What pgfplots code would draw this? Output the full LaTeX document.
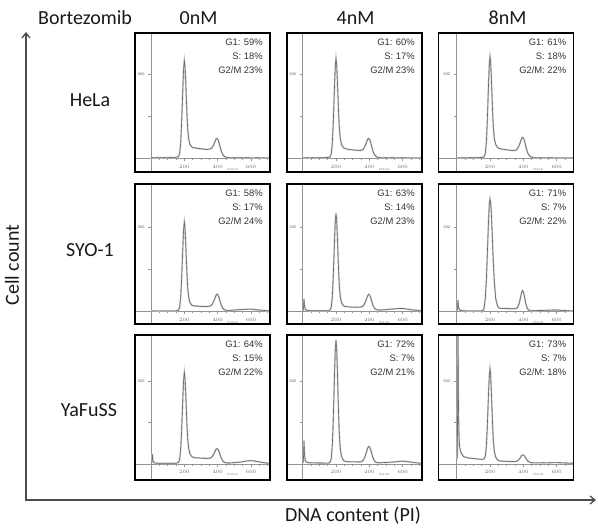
\documentclass[border=0pt]{standalone}
\usepackage{pgfplots}
\usepackage{pgfplotstable}
\pgfplotsset{compat=1.18}
\usetikzlibrary{arrows.meta}
\usepackage{fontspec}
\setmainfont{Carlito}
\newfontfamily\arialf{Liberation Sans}

% HeLa 0nM
\pgfplotstableread{
x y
0 4
10 4
25 3
40 5
60 4
80 5
100 4
120 6
140 6
155 8
165 13
172 34
178 110
183 234
188 396
192 534
196 646
200 697
204 657
208 554
212 428
216 308
220 214
226 138
234 99
245 81
255 74
265 76
275 70
285 72
295 66
305 69
315 64
325 66
335 62
345 65
355 66
365 73
375 94
383 117
390 137
396 142
402 134
408 112
415 80
422 50
430 28
440 13
452 6
465 4
480 3
500 5
520 3
540 4
560 3
580 4
600 3
620 3
640 4
660 2
680 3
700 2
710 3
}\dA
% HeLa 4nM
\pgfplotstableread{
x y
0 3
10 3
25 4
40 3
60 4
80 3
100 4
120 4
140 5
155 6
165 12
172 34
178 111
183 236
188 406
192 547
196 662
200 714
204 672
208 565
212 435
216 312
220 215
226 136
234 96
245 75
255 69
265 66
275 64
285 61
295 62
305 58
315 59
325 56
335 57
345 55
355 59
365 67
375 89
383 114
390 136
396 142
402 135
408 113
415 81
422 50
430 28
440 13
452 6
465 4
480 3
500 4
520 3
540 4
560 3
580 3
600 4
620 3
640 3
660 2
680 3
700 2
710 2
}\dB
% HeLa 8nM
\pgfplotstableread{
x y
0 3
10 3
25 3
40 4
60 3
80 4
100 4
120 4
140 5
155 6
165 12
172 34
178 113
183 240
188 413
192 556
196 673
200 726
204 684
208 576
212 444
216 319
220 220
226 140
234 99
245 78
255 70
265 68
275 65
285 63
295 61
305 60
315 57
325 58
335 55
345 56
355 58
365 68
375 92
383 118
390 142
396 149
402 142
408 119
415 85
422 53
430 29
440 13
452 6
465 4
480 3
500 4
520 3
540 3
560 4
580 3
600 3
620 3
640 2
660 3
680 2
700 2
710 2
}\dC
% SYO-1 0nM
\pgfplotstableread{
x y
0 3
10 3
25 3
40 4
60 3
80 3
100 4
120 4
140 4
155 5
165 10
172 30
178 99
183 210
188 361
192 487
196 589
200 635
204 595
208 495
212 375
216 262
220 172
226 100
234 63
245 44
255 40
265 38
275 39
285 36
295 37
305 35
315 36
325 34
335 35
345 36
355 38
365 46
375 68
383 92
390 114
396 122
402 116
408 98
415 70
422 42
430 24
440 12
452 8
465 7
480 8
500 10
520 12
540 13
560 15
580 16
600 16
620 14
640 11
660 9
680 7
700 5
710 5
}\dD
% SYO-1 4nM
\pgfplotstableread{
x y
4 6
8 89
11 40
16 14
25 8
40 6
60 5
80 5
100 5
120 5
140 5
155 6
165 12
172 33
178 108
183 229
188 396
192 534
196 645
200 696
204 650
208 539
212 406
216 280
220 180
226 100
234 60
245 40
255 35
265 34
275 32
285 33
295 30
305 31
315 29
325 31
335 30
345 31
355 33
365 42
375 64
383 89
390 112
396 121
402 116
408 98
415 69
422 42
430 25
440 14
452 11
465 10
480 11
500 13
520 15
540 17
560 19
580 21
600 21
620 18
640 14
660 11
680 9
700 6
710 6
}\dE
% SYO-1 8nM
\pgfplotstableread{
x y
4 6
8 81
11 35
16 12
25 7
40 5
60 4
80 4
100 4
120 4
140 4
155 4
160 10
165 27
172 97
178 221
183 372
188 538
192 666
196 763
200 798
204 772
208 699
212 590
216 466
220 349
226 209
234 93
245 38
255 24
265 22
275 21
285 22
295 20
305 21
315 19
325 20
335 19
345 20
355 21
365 28
375 56
383 99
390 137
396 148
402 133
408 98
415 54
422 27
430 11
440 6
452 5
465 5
480 6
500 7
520 7
540 8
560 9
580 10
600 10
620 8
640 7
660 6
680 4
700 3
710 3
}\dF
% YaFuSS 0nM
\pgfplotstableread{
x y
4 6
8 73
11 30
16 12
25 7
40 5
60 5
80 5
100 5
120 5
140 5
155 6
165 12
172 32
178 105
183 220
188 378
192 509
196 617
200 665
204 624
208 521
212 397
216 279
220 186
226 111
234 73
245 53
255 48
265 46
275 44
285 45
295 42
305 43
315 41
325 42
335 40
345 41
355 42
365 50
375 68
383 89
390 106
396 112
402 107
408 90
415 64
422 42
430 23
440 12
452 8
465 7
480 8
500 10
520 12
540 14
560 19
580 23
600 24
620 22
640 17
660 13
680 9
700 6
710 6
}\dG
% YaFuSS 4nM
\pgfplotstableread{
x y
4 10
8 170
11 70
16 25
25 12
40 9
60 8
80 8
100 7
120 7
140 6
155 6
165 14
172 41
178 140
183 297
188 513
192 692
196 837
200 900
204 839
208 690
212 513
216 344
220 212
226 105
234 52
245 26
255 19
265 17
275 16
285 17
295 15
305 16
315 15
325 16
335 14
345 15
355 18
365 29
375 56
383 86
390 115
396 127
402 124
408 104
415 73
422 46
430 23
440 12
452 9
465 9
480 10
500 11
520 12
540 14
560 16
580 19
600 20
620 19
640 15
660 12
680 9
700 6
710 6
}\dH
% YaFuSS 8nM
\pgfplotstableread{
x y
4 40
8 1000
11 400
14 200
18 119
25 85
40 55
60 46
80 42
100 40
120 37
140 35
155 33
165 38
172 57
178 129
183 247
188 406
192 538
196 645
200 691
204 644
208 531
212 397
216 271
220 170
226 90
234 50
245 29
255 23
265 21
275 21
285 19
295 20
305 18
315 19
325 17
335 18
345 17
355 19
365 22
375 34
383 47
390 61
396 66
402 64
408 57
415 43
422 29
430 18
440 12
452 9
465 8
480 8
500 8
520 9
540 8
560 9
580 10
600 10
620 9
640 8
660 7
680 6
700 5
710 5
}\dI

\pgfplotsset{
  hist/.style={
    scale only axis, width=135pt, anchor=south west,
    axis lines=middle,
    axis line style={-, draw=gray!85, line width=0.55pt},
    xtick={0,200,400,600},
    minor xtick={50,100,150,250,300,350,450,500,550,650,700},
    ytick={0,300,600}, yticklabels={0,,600},
    tick style={draw=gray!85, line width=0.4pt},
    major tick length=2.6pt, minor tick length=1.6pt,
    tick align=outside,
    xticklabel style={font=\arialf\fontsize{3.8}{4}\selectfont, text=black!60, yshift=-0.5pt},
    yticklabel style={font=\arialf\fontsize{3.8}{4}\selectfont, text=black!60, xshift=-0.5pt},
    clip mode=individual,
  },
  row1/.style={height=139pt, ymin=-98, ymax=895},
  row2/.style={height=140pt, ymin=-89, ymax=904},
  row3/.style={height=145pt, ymin=-116, ymax=935},
  col1/.style={xmin=-96, xmax=714},
  col2/.style={xmin=-94, xmax=716},
  col3/.style={xmin=-109, xmax=701},
}

\newcommand\panel[9]{%
\begin{axis}[hist,#3,#4,at={(#1pt,#2pt)}]
\addplot[no marks, draw=gray!40, line width=1.7pt] table {#5};
\addplot[no marks, draw=black!60, line width=0.6pt] table {#5};
\draw[black, line width=#9] (rel axis cs:0,0) rectangle (rel axis cs:1,1);
\node[anchor=east, yshift=-9pt, font=\arialf\fontsize{9.4}{10}\selectfont, text=black!80, inner sep=0pt] at (rel axis cs:0.948,1) {#6};
\node[anchor=east, yshift=-23pt, font=\arialf\fontsize{9.4}{10}\selectfont, text=black!80, inner sep=0pt] at (rel axis cs:0.948,1) {#7};
\node[anchor=east, yshift=-37.5pt, font=\arialf\fontsize{9.4}{10}\selectfont, text=black!80, inner sep=0pt] at (rel axis cs:0.948,1) {#8};
\node[font=\arialf\fontsize{3}{3}\selectfont, text=black!55, inner sep=0pt] at (axis cs:490,-78) {FL2-Lin};
\end{axis}}

\begin{document}
\begin{tikzpicture}[x=1pt,y=1pt]
\useasboundingbox (0,0) rectangle (598,532);
\draw[black!70, line width=1.3pt, {Straight Barb[length=5pt,width=8pt]}-{Straight Barb[length=5pt,width=8pt]}] (26,500) -- (26,32) -- (596,32);

\panel{135}{360}{row1}{col1}{\dA}{G1: 59\%}{S: 18\%}{G2/M 23\%}{1.5pt}
\panel{287}{360}{row1}{col2}{\dB}{G1: 60\%}{S: 17\%}{G2/M 23\%}{1.5pt}
\panel{438.5}{360}{row1}{col3}{\dC}{G1: 61\%}{S: 18\%}{G2/M: 22\%}{1.1pt}
\panel{135}{208}{row2}{col1}{\dD}{G1: 58\%}{S: 17\%}{G2/M 24\%}{1.5pt}
\panel{287}{208}{row2}{col2}{\dE}{G1: 63\%}{S: 14\%}{G2/M 23\%}{1.5pt}
\panel{438.5}{208}{row2}{col3}{\dF}{G1: 71\%}{S: 7\%}{G2/M: 22\%}{1.1pt}
\panel{135}{52}{row3}{col1}{\dG}{G1: 64\%}{S: 15\%}{G2/M 22\%}{1.5pt}
\panel{287}{52}{row3}{col2}{\dH}{G1: 72\%}{S: 7\%}{G2/M 21\%}{1.5pt}
\panel{438.5}{52}{row3}{col3}{\dI}{G1: 73\%}{S: 7\%}{G2/M: 18\%}{1.1pt}

\begin{scope}[every node/.style={font=\fontsize{20}{24}\selectfont, text=black!90, inner sep=0pt}]
\node[anchor=base] at (85,507) {Bortezomib};
\node[anchor=base] at (198.5,507) {0nM};
\node[anchor=base] at (355.5,507) {4nM};
\node[anchor=base] at (507.5,507) {8nM};
\node at (90,432) {HeLa};
\node at (90,282) {SYO-1};
\node at (89,122) {YaFuSS};
\node[rotate=90] at (12,267) {Cell count};
\node[anchor=base] at (353,10) {DNA content (PI)};
\end{scope}
\end{tikzpicture}
\end{document}
